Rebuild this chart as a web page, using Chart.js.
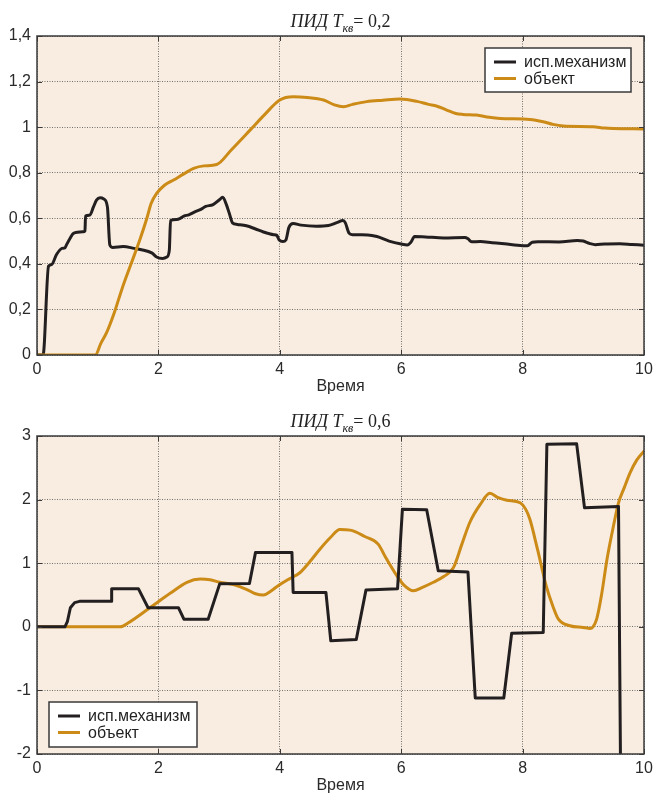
<!DOCTYPE html>
<html>
<head>
<meta charset="utf-8">
<script src="https://cdn.jsdelivr.net/npm/chart.js@4.4.1/dist/chart.umd.min.js"></script>
<style>
  html, body { margin: 0; padding: 0; background: #ffffff; }
  canvas { display: block; }
</style>
</head>
<body>
<canvas id="chartTop" width="655" height="400"></canvas>
<canvas id="chartBottom" width="655" height="394"></canvas>
<script>
// Series names
const seriesNames = ['исп.механизм', 'объект'];

// Axis ticks
const xTicks = [0, 2, 4, 6, 8, 10];
const yTicksTop = [0, 0.2, 0.4, 0.6, 0.8, 1, 1.2, 1.4];
const yTicksBottom = [-2, -1, 0, 1, 2, 3];

// ПИД, Tкв = 0,2 : actuator
const actTopT = [0, 0.1, 0.19, 0.24, 0.32, 0.41, 0.46, 0.48, 0.55, 0.6, 0.76, 0.79, 0.8, 0.87, 0.93, 0.98, 1.04,
  1.1, 1.16, 1.2, 1.25, 1.42, 1.6, 1.72, 1.89, 1.97, 2.07, 2.14, 2.18, 2.2, 2.3, 2.36, 2.42, 2.5, 2.6, 2.69,
  2.78, 2.9, 3.0, 3.06, 3.12, 3.17, 3.22, 3.3, 3.45, 3.6, 3.73, 3.9, 3.95, 3.99, 4.05, 4.1, 4.15, 4.22, 4.35,
  4.6, 4.8, 4.95, 5.04, 5.08, 5.14, 5.2, 5.45, 5.6, 5.8, 6.0, 6.1, 6.16, 6.22, 6.4, 6.7, 7.05, 7.1, 7.16, 7.3,
  7.5, 7.7, 8.0, 8.08, 8.16, 8.25, 8.6, 8.9, 9.0, 9.1, 9.2, 9.35, 9.6, 9.8, 10];
const actTopY = [0, 0, 0.39, 0.397, 0.44, 0.468, 0.47, 0.48, 0.515, 0.534, 0.541, 0.545, 0.61, 0.614, 0.65, 0.68, 0.69,
  0.685, 0.65, 0.483, 0.472, 0.476, 0.468, 0.462, 0.448, 0.43, 0.424, 0.43, 0.46, 0.59, 0.595, 0.6, 0.61, 0.615, 0.628, 0.638,
  0.652, 0.66, 0.68, 0.692, 0.66, 0.62, 0.58, 0.573, 0.567, 0.553, 0.54, 0.528, 0.525, 0.505, 0.498, 0.505, 0.56, 0.577, 0.57,
  0.565, 0.568, 0.582, 0.59, 0.58, 0.535, 0.528, 0.527, 0.52, 0.5, 0.487, 0.483, 0.495, 0.52, 0.518, 0.514, 0.516, 0.51, 0.497, 0.498,
  0.493, 0.488, 0.48, 0.48, 0.495, 0.497, 0.496, 0.502, 0.5, 0.49, 0.484, 0.487, 0.488, 0.485, 0.482];

// ПИД, Tкв = 0,2 : plant output
const objTopT = [0, 0.96, 1.05, 1.15, 1.27, 1.4, 1.55, 1.7, 1.81, 1.88, 1.97, 2.1, 2.25, 2.42, 2.58, 2.75, 2.96,
  3.2, 3.51, 3.75, 4.0, 4.22, 4.45, 4.72, 4.9, 5.05, 5.2, 5.43, 5.7, 5.98, 6.26, 6.45, 6.58, 6.75, 6.9, 7.02,
  7.24, 7.45, 7.63, 8.12, 8.34, 8.5, 8.67, 9.16, 9.35, 9.49, 10];
const objTopY = [0, 0, 0.05, 0.1, 0.183, 0.29, 0.4, 0.51, 0.6, 0.665, 0.709, 0.745, 0.768, 0.795, 0.819, 0.83, 0.836,
  0.9, 0.987, 1.055, 1.119, 1.133, 1.13, 1.119, 1.098, 1.09, 1.1, 1.112, 1.118, 1.123, 1.113, 1.1, 1.093, 1.075, 1.06, 1.056,
  1.053, 1.043, 1.038, 1.034, 1.024, 1.012, 1.005, 1.002, 0.996, 0.994, 0.992];

// ПИД, Tкв = 0,6 : actuator
const actBotT = [0, 0.46, 0.5, 0.55, 0.62, 0.7, 1.22, 1.23, 1.67, 1.83, 2.33, 2.42, 2.82, 3.01, 3.5, 3.6, 4.2, 4.22,
  4.76, 4.84, 5.26, 5.42, 5.94, 6.02, 6.42, 6.61, 7.1, 7.22, 7.69, 7.82, 8.34, 8.4, 8.89, 9.02, 9.58, 9.62];
const actBotY = [0, 0, 0.08, 0.3, 0.38, 0.4, 0.4, 0.6, 0.6, 0.3, 0.3, 0.12, 0.12, 0.675, 0.68, 1.17, 1.17, 0.54,
  0.54, -0.22, -0.2, 0.58, 0.6, 1.85, 1.84, 0.88, 0.86, -1.12, -1.12, -0.1, -0.09, 2.87, 2.88, 1.87, 1.89, -3.0];

// ПИД, Tкв = 0,6 : plant output
const objBotT = [0, 1.37, 1.5, 1.86, 2.2, 2.47, 2.69, 2.85, 3.01, 3.25, 3.45, 3.6, 3.73, 3.85, 3.95, 4.15, 4.33, 4.5,
  4.66, 4.83, 4.99, 5.16, 5.4, 5.62, 5.75, 5.93, 6.05, 6.2, 6.35, 6.53, 6.7, 6.86, 7.0, 7.13, 7.3, 7.46, 7.6, 7.74,
  7.96, 8.05, 8.12, 8.25, 8.39, 8.5, 8.59, 8.78, 9.0, 9.11, 9.16, 9.22, 9.3, 9.39, 9.5, 9.58, 9.68, 9.77, 9.88, 10];
const objBotY = [0, 0, 0.06, 0.3, 0.53, 0.7, 0.75, 0.74, 0.7, 0.66, 0.59, 0.52, 0.5, 0.56, 0.63, 0.75, 0.85, 1.03,
  1.22, 1.4, 1.53, 1.52, 1.42, 1.3, 1.08, 0.8, 0.65, 0.565, 0.62, 0.7, 0.79, 0.93, 1.3, 1.64, 1.92, 2.1, 2.03, 1.99,
  1.95, 1.85, 1.69, 1.2, 0.64, 0.32, 0.12, 0.016, -0.01, -0.025, 0.0, 0.12, 0.5, 1.06, 1.6, 1.95, 2.2, 2.42, 2.62, 2.76];

const COLOR_ACT = '#231f20';
const COLOR_OBJ = '#cc8a16';
const PLOT_BG = '#f8ede0';
const FRAME = '#3a3a3a';
const SANS = '"Liberation Sans", Arial, sans-serif';
const SERIF = '"Liberation Serif", "Times New Roman", serif';

const pts = (ts, ys) => ts.map((t, i) => ({ x: t, y: ys[i] }));
const fmt = v => String(v).replace('.', ',');

// Beige plot area, frame and inward tick marks
const plotFrame = {
  id: 'plotFrame',
  beforeDraw(chart) {
    const { ctx, chartArea: a } = chart;
    ctx.save();
    ctx.fillStyle = PLOT_BG;
    ctx.fillRect(a.left, a.top, a.right - a.left, a.bottom - a.top);
    ctx.restore();
  },
  afterDatasetsDraw(chart) {
    const { ctx, chartArea: a, scales } = chart;
    const L = 5;
    ctx.save();
    ctx.strokeStyle = FRAME;
    ctx.lineWidth = 1;
    ctx.beginPath();
    scales.x.ticks.forEach(t => {
      const p = Math.round(scales.x.getPixelForValue(t.value)) + 0.5;
      ctx.moveTo(p, a.bottom); ctx.lineTo(p, a.bottom - L);
      ctx.moveTo(p, a.top); ctx.lineTo(p, a.top + L);
    });
    scales.y.ticks.forEach(t => {
      const p = Math.round(scales.y.getPixelForValue(t.value)) + 0.5;
      ctx.moveTo(a.left, p); ctx.lineTo(a.left + L, p);
      ctx.moveTo(a.right, p); ctx.lineTo(a.right - L, p);
    });
    ctx.stroke();
    ctx.lineWidth = 1.5;
    ctx.strokeRect(a.left, a.top, a.right - a.left, a.bottom - a.top);
    ctx.restore();
  }
};

// Title with subscript: "ПИД Tкв = x"
const subTitle = {
  id: 'subTitle',
  afterDraw(chart, args, o) {
    const { ctx, chartArea: a } = chart;
    const parts = [
      { text: o.lead, font: `italic 18px ${SERIF}`, dy: 0 },
      { text: o.sub, font: `italic 12px ${SERIF}`, dy: 5 },
      { text: o.tail, font: `18px ${SERIF}`, dy: 0 }
    ];
    ctx.save();
    let w = 0;
    parts.forEach(p => { ctx.font = p.font; p.w = ctx.measureText(p.text).width; w += p.w; });
    let x = (a.left + a.right) / 2 - w / 2;
    ctx.fillStyle = '#222';
    ctx.textBaseline = 'alphabetic';
    ctx.textAlign = 'left';
    parts.forEach(p => { ctx.font = p.font; ctx.fillText(p.text, x, o.y + p.dy); x += p.w; });
    ctx.restore();
  }
};

// Boxed legend placed inside the plot
const boxLegend = {
  id: 'boxLegend',
  afterDraw(chart, args, o) {
    const { ctx } = chart;
    ctx.save();
    ctx.fillStyle = '#ffffff';
    ctx.fillRect(o.left, o.top, o.width, o.height);
    ctx.strokeStyle = FRAME;
    ctx.lineWidth = 1.5;
    ctx.strokeRect(o.left, o.top, o.width, o.height);
    ctx.font = `16px ${SANS}`;
    ctx.textBaseline = 'middle';
    ctx.textAlign = 'left';
    chart.data.datasets.forEach((ds, i) => {
      const y = o.firstRow + i * o.rowGap;
      ctx.strokeStyle = ds.borderColor;
      ctx.lineWidth = 3;
      ctx.beginPath();
      ctx.moveTo(o.lineX0, y); ctx.lineTo(o.lineX1, y);
      ctx.stroke();
      ctx.fillStyle = '#222';
      ctx.fillText(ds.label, o.textX, y + 1);
    });
    ctx.restore();
  }
};

function makeChart(id, cfg) {
  return new Chart(document.getElementById(id), {
    type: 'line',
    data: {
      datasets: [
        { label: seriesNames[0], data: pts(cfg.actT, cfg.actY), borderColor: COLOR_ACT, borderWidth: 3,
          pointRadius: 0, cubicInterpolationMode: cfg.actSmooth ? 'monotone' : 'default', tension: 0,
          borderJoinStyle: 'round', borderCapStyle: 'round', order: cfg.actOrder },
        { label: seriesNames[1], data: pts(cfg.objT, cfg.objY), borderColor: COLOR_OBJ, borderWidth: 3,
          pointRadius: 0, cubicInterpolationMode: 'monotone',
          borderJoinStyle: 'round', borderCapStyle: 'round', order: cfg.objOrder }
      ]
    },
    options: {
      responsive: false,
      animation: false,
      events: [],
      layout: { padding: { top: 36, right: 11, left: 0, bottom: 0 } },
      scales: {
        x: {
          type: 'linear', min: 0, max: 10,
          afterBuildTicks: s => { s.ticks = xTicks.map(v => ({ value: v })); },
          afterFit: s => { s.height = cfg.xAxisHeight; s.paddingLeft = 0; s.paddingRight = 0; },
          grid: { color: 'rgba(70,70,70,0.75)', lineWidth: 1, drawTicks: false },
          border: { display: false, dash: [1, 1.5] },
          ticks: { padding: 5, color: '#2a2a2a', font: { family: SANS, size: 16 }, callback: fmt, maxRotation: 0 },
          title: { display: true, text: 'Время', color: '#2a2a2a', font: { family: SANS, size: 16, lineHeight: 1 },
                   padding: { top: 0, bottom: cfg.xTitlePad } }
        },
        y: {
          type: 'linear', min: cfg.yMin, max: cfg.yMax,
          afterBuildTicks: s => { s.ticks = cfg.yTicks.map(v => ({ value: v })); },
          afterFit: s => { s.width = 37; s.paddingTop = 0; s.paddingBottom = 0; },
          grid: { color: 'rgba(70,70,70,0.75)', lineWidth: 1, drawTicks: false },
          border: { display: false, dash: [1, 1.5] },
          ticks: { padding: 6, color: '#2a2a2a', font: { family: SANS, size: 16 }, callback: fmt }
        }
      },
      plugins: {
        legend: { display: false },
        tooltip: { enabled: false },
        subTitle: cfg.title,
        boxLegend: cfg.legend
      }
    },
    plugins: [plotFrame, subTitle, boxLegend]
  });
}

makeChart('chartTop', {
  actT: actTopT, actY: actTopY, objT: objTopT, objY: objTopY,
  actSmooth: true, actOrder: 1, objOrder: 0,
  yMin: 0, yMax: 1.4, yTicks: yTicksTop,
  xAxisHeight: 45, xTitlePad: 5,
  title: { lead: 'ПИД T', sub: 'кв', tail: '= 0,2', y: 27 },
  legend: { left: 485, top: 48, width: 146, height: 44, firstRow: 62, rowGap: 16.5, lineX0: 494, lineX1: 516, textX: 524 }
});

makeChart('chartBottom', {
  actT: actBotT, actY: actBotY, objT: objBotT, objY: objBotY,
  actSmooth: false, actOrder: 0, objOrder: 1,
  yMin: -2, yMax: 3, yTicks: yTicksBottom,
  xAxisHeight: 40, xTitlePad: 0,
  title: { lead: 'ПИД T', sub: 'кв', tail: '= 0,6', y: 27 },
  legend: { left: 49, top: 302, width: 148, height: 45, firstRow: 316, rowGap: 16.5, lineX0: 58, lineX1: 80, textX: 88 }
});
</script>
</body>
</html>
